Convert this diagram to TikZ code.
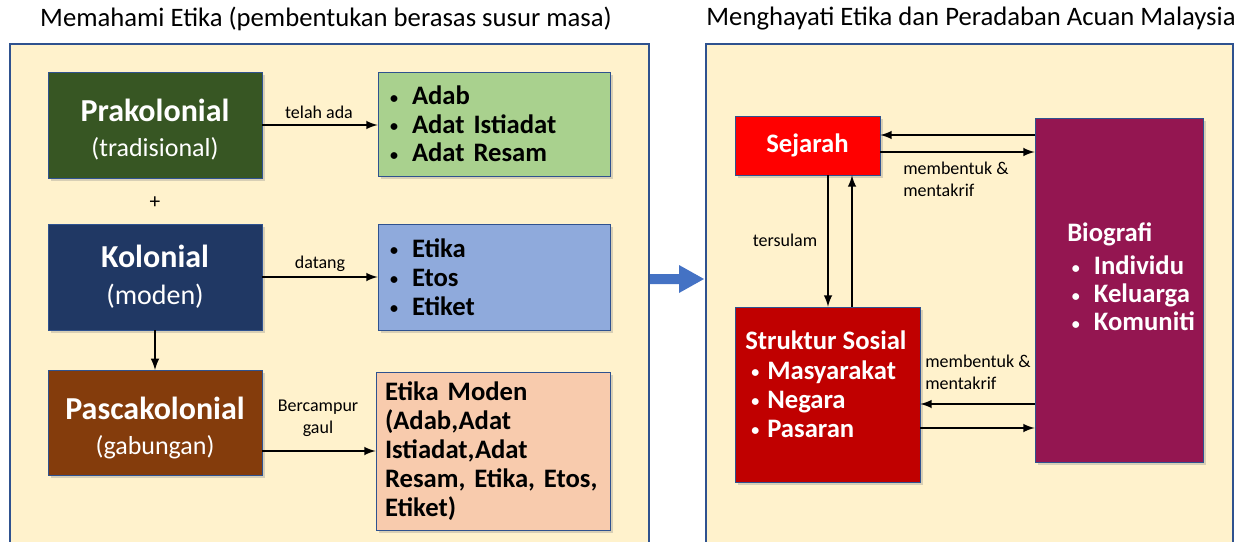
\documentclass[tikz,border=0pt]{standalone}
\usepackage{fontspec}
\setmainfont{Carlito}
\usepackage{tikz}
\usetikzlibrary{calc,shadows,arrows}
\definecolor{frameblue}{RGB}{47,82,143}
\definecolor{panel}{RGB}{255,242,204}
\definecolor{arrblue}{RGB}{68,114,196}
\definecolor{praC}{RGB}{55,86,35}
\definecolor{adabC}{RGB}{169,209,142}
\definecolor{kolC}{RGB}{32,56,100}
\definecolor{etkC}{RGB}{143,170,220}
\definecolor{pasC}{RGB}{132,60,12}
\definecolor{emC}{RGB}{248,203,173}
\definecolor{sejC}{RGB}{255,0,0}
\definecolor{strC}{RGB}{192,0,0}
\definecolor{bioC}{RGB}{148,22,81}
\newcommand{\bl}[1][18pt]{\makebox[#1][l]{\hspace*{1.5pt}\raisebox{1pt}{\fontsize{12}{12}\selectfont\textbullet}}}

\begin{document}
\begin{tikzpicture}[x=0.75pt,y=-0.75pt,
  box/.style={draw=frameblue,line width=0.6pt,inner sep=0pt,
    drop shadow={shadow xshift=2pt,shadow yshift=-2pt,opacity=0.3}},
  hd/.style={box,text=white,align=center,minimum width=160.5pt,
    font=\fontsize{24}{26}\selectfont},
  lst/.style={box,align=left,inner xsep=7.5pt,
    font=\fontsize{20}{21.5}\selectfont\bfseries},
  wlst/.style={align=left,inner sep=0pt,text=white,
    font=\fontsize{20}{21.5}\selectfont\bfseries},
  lbl/.style={inner sep=0pt,align=left,font=\fontsize{13.5}{16.5}\selectfont},
  arr/.style={-latex,line width=1.9pt}]
\clip (0,0) rectangle (1247,542);
%\draw[help lines,step=50] (0,0) grid (1247,542);

% left panel
\node (t1) at (326,19) {\fontsize{20}{22}\selectfont Memahami Etika (pembentukan berasas susur masa)};
\draw[draw=frameblue,fill=panel,line width=2.2pt] (10,44) rectangle (649,560);

\node[hd,fill=praC,minimum height=79.5pt] (pra) at (155,125)
  {\rule{0pt}{24pt}\textbf{Prakolonial}\\[0.5pt]{\fontsize{19.5}{26}\selectfont(tradisional)}};
\node[lst,fill=adabC,text width=159pt,minimum height=78pt] (adab) at (494,124)
  {\bl Adab\\\bl Adat Istiadat\\\bl Adat Resam};
\draw[arr] (pra.east) -- (pra.east -| adab.west);
\node[lbl] (l1) at (319,112) {telah ada};

\node (plus) at (155,203) {\fontsize{16}{18}\selectfont +};

\node[hd,fill=kolC,minimum height=79.5pt,font=\fontsize{24}{28}\selectfont] (kol) at (155,277)
  {\textbf{Kolonial}\\{\fontsize{21}{28}\selectfont(moden)}};
\node[lst,fill=etkC,text width=159pt,minimum height=79.5pt,
  font=\fontsize{20}{21.75}\selectfont\bfseries] (etk) at (494,277)
  {\bl Etika\\\bl Etos\\\bl Etiket};
\draw[arr] (kol.east) -- (kol.east -| etk.west);
\node[lbl] (l2) at (320,264) {datang};

\draw[arr] (kol.south) -- (155,370);
\node[hd,fill=pasC,minimum height=78.75pt] (pas) at (155,422.5)
  {\rule{0pt}{25pt}\textbf{Pascakolonial}\\[0.5pt]{\fontsize{19.5}{26}\selectfont(gabungan)}};
\node[lst,fill=emC,text width=162pt,inner xsep=6.75pt,minimum height=118.5pt,
  font=\fontsize{20}{21.75}\selectfont\bfseries] (em) at (493,451)
  {Etika Moden\\(Adab,Adat\\Istiadat,Adat\\Resam, Etika, Etos,\\Etiket)};
\draw[arr] (em.west -| pas.east) -- (em.west);
\node[lbl,align=center] (l3) at (318,418) {Bercampur\\gaul};

% big arrow
\fill[arrblue] (650,274) -- (679,274) -- (679,265) -- (704,279) -- (679,293)
  -- (679,284) -- (650,284) -- cycle;

% right panel
\node (t2) at (971,19) {\fontsize{20}{22}\selectfont Menghayati Etika dan Peradaban Acuan Malaysia};
\draw[draw=frameblue,fill=panel,line width=2.2pt] (706,44) rectangle (1233,560);

\node[box,fill=sejC,minimum width=108.75pt,minimum height=44.25pt,text=white,
  font=\fontsize{20}{22}\selectfont\bfseries] (sej) at (807.5,145.5) {Sejarah};
\node[box,fill=bioC,minimum width=126pt,minimum height=258pt] (bio) at (1119,290) {};
\node[wlst,anchor=west,font=\fontsize{20}{21}\selectfont\bfseries] (biotxt) at (1067,277)
  {Biografi\\[3.75pt]\hspace*{2pt}\bl[18pt]Individu\\\hspace*{2pt}\bl[18pt]Keluarga\\\hspace*{2pt}\bl[18pt]Komuniti};
\node[box,fill=strC,minimum width=138.75pt,minimum height=131.25pt] (str) at (827.5,394.5) {};
\node[wlst,anchor=west,font=\fontsize{20}{21.75}\selectfont\bfseries] (strtxt) at (745,384)
  {Struktur Sosial\\[0.75pt]\hspace*{3pt}\bl[13.5pt]Masyarakat\\\hspace*{3pt}\bl[13.5pt]Negara\\\hspace*{3pt}\bl[13.5pt]Pasaran};

\coordinate (a1) at ($(sej.east)+(0,-10.5)$);
\coordinate (a2) at ($(sej.east)+(0,6.5)$);
\draw[arr] (a1 -| bio.west) -- (a1);
\draw[arr] (a2) -- (a2 -| bio.west);
\node[lbl,anchor=west] (m1) at (903,179) {membentuk \&\\mentakrif};

\coordinate (v1) at ($(sej.south)+(20.5,0)$);
\coordinate (v2) at ($(sej.south)+(44.5,0)$);
\draw[arr] (v1) -- (v1 |- str.north);
\draw[arr] (v2 |- str.north) -- (v2);
\node[lbl] (ts) at (785,240) {tersulam};

\coordinate (b1) at ($(str.east)+(0,9.5)$);
\coordinate (b2) at ($(str.east)+(0,33.5)$);
\draw[arr] (b1 -| bio.west) -- (b1);
\draw[arr] (b2) -- (b2 -| bio.west);
\node[lbl,anchor=west] (m2) at (925,372) {membentuk \&\\mentakrif};
\end{tikzpicture}
\end{document}
